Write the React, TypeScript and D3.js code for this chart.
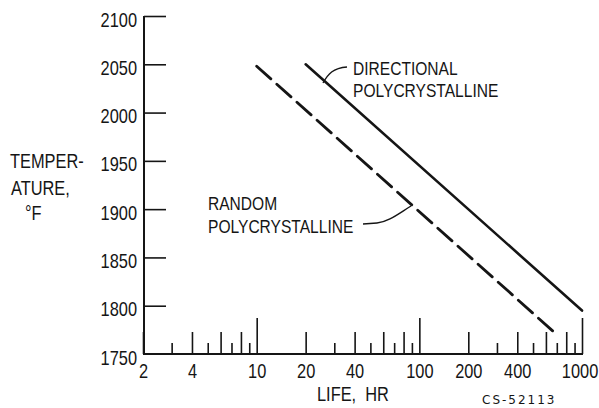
import { useEffect, useRef } from 'react'
import * as d3 from 'd3'

// life (hr) tick values on the log axis
const lifeTicks = [
  2, 3, 4, 5, 6, 7, 8, 9,
  10, 20, 30, 40, 50, 60, 70, 80, 90,
  100, 200, 300, 400, 500, 600, 700, 800, 900, 1000,
]
const lifeLabels = [2, 4, 10, 20, 40, 100, 200, 400, 1000]
const tempTicks = [1750, 1800, 1850, 1900, 1950, 2000, 2050, 2100]

// [life hr, temperature F]
const directional: [number, number][] = [
  [20, 2050],
  [1000, 1795],
]
const random: [number, number][] = [
  [10, 2048],
  [680, 1772],
]

// narrow lettering: Liberation Sans squeezed horizontally
const FONT = "'Liberation Sans', Arial, sans-serif"
const SQUEEZE = 0.82
const INK = '#151515'

export default function App() {
  const svgRef = useRef<SVGSVGElement>(null)

  useEffect(() => {
    if (!svgRef.current) return
    const svg = d3.select(svgRef.current)
    svg.selectAll('*').remove()

    const width = 599
    const height = 408

    svg.attr('width', width).attr('height', height)
    svg.append('rect').attr('width', width).attr('height', height).attr('fill', '#fff')

    const x = d3.scaleLog().domain([2, 1000]).range([143, 582])
    const y = d3.scaleLinear().domain([1750, 2100]).range([354, 16])

    // Y axis
    const yAxis = svg
      .append('g')
      .attr('transform', `translate(${x(2) + 1},0)`)
      .call(
        d3
          .axisLeft(y)
          .tickValues(tempTicks)
          .tickSizeInner(-22)
          .tickSizeOuter(0)
          .tickPadding(7)
          .tickFormat(d3.format('d'))
      )
    yAxis.select('.domain').remove()
    yAxis.selectAll('.tick line')
      .attr('stroke', INK)
      .attr('stroke-width', 1.6)
      .attr('display', (d: any) => (d === 1750 ? 'none' : null))
    yAxis.selectAll('.tick text')
      .attr('fill', INK)
      .attr('dy', '0.5em')
      .attr('x', -7 / SQUEEZE)
      .attr('transform', `scale(${SQUEEZE},1)`)
      .style('font-family', FONT)
      .style('font-size', '20px')

    // X axis (ticks point upward with varying lengths)
    const tickLen = (d: number) => {
      const lead = Math.round(d / Math.pow(10, Math.floor(Math.log10(d) + 1e-9)))
      if (lead === 1) return 36
      return lead % 2 === 0 ? 22 : 11
    }
    const xAxis = svg
      .append('g')
      .attr('transform', `translate(0,${y(1750)})`)
      .call(
        d3
          .axisBottom(x)
          .tickValues(lifeTicks)
          .tickSizeInner(0)
          .tickSizeOuter(0)
          .tickPadding(10)
          .tickFormat((d: any) => (lifeLabels.includes(d) ? String(d) : ''))
      )
    xAxis.select('.domain').remove()
    xAxis.selectAll('.tick line')
      .attr('y2', (d: any) => -tickLen(d))
      .attr('stroke', INK)
      .attr('stroke-width', 1.6)
    xAxis.selectAll('.tick text')
      .attr('fill', INK)
      .attr('dx', (d: any) => (d === 1000 ? -3 : 0))
      .attr('transform', `scale(${SQUEEZE},1)`)
      .style('font-family', FONT)
      .style('font-size', '20px')

    // axis lines
    svg.append('line')
      .attr('x1', x(2) + 1).attr('x2', x(2) + 1)
      .attr('y1', y(2100)).attr('y2', y(1750))
      .attr('stroke', INK).attr('stroke-width', 2)
    svg.append('line')
      .attr('x1', x(2)).attr('x2', x(1000) + 1)
      .attr('y1', y(1750)).attr('y2', y(1750))
      .attr('stroke', INK).attr('stroke-width', 2.2)

    // curves
    const line = d3
      .line<[number, number]>()
      .x(d => x(d[0]))
      .y(d => y(d[1]))

    svg.append('path')
      .datum(directional)
      .attr('d', line)
      .attr('fill', 'none')
      .attr('stroke', INK)
      .attr('stroke-width', 2.6)
      .attr('stroke-linecap', 'round')

    svg.append('path')
      .datum(random)
      .attr('d', line)
      .attr('fill', 'none')
      .attr('stroke', INK)
      .attr('stroke-width', 2.8)
      .attr('stroke-dasharray', '19 8')
      .attr('stroke-linecap', 'round')

    // leaders
    svg.append('path')
      .attr('d', 'M323,83 C328,74 333,68 347,67')
      .attr('fill', 'none')
      .attr('stroke', INK)
      .attr('stroke-width', 1.4)
    svg.append('path')
      .attr('d', 'M363,224 L377,223 C388,222 398,214 411,206')
      .attr('fill', 'none')
      .attr('stroke', INK)
      .attr('stroke-width', 1.4)

    const text = (tx: number, ty: number, s: string, size = 19) =>
      svg.append('g')
        .attr('transform', `translate(${tx},${ty}) scale(${SQUEEZE},1)`)
        .append('text')
        .attr('fill', INK)
        .style('font-family', FONT)
        .style('font-size', `${size}px`)
        .style('white-space', 'pre')
        .text(s)

    text(353, 75, 'DIRECTIONAL')
    text(353, 97, 'POLYCRYSTALLINE')
    text(208, 210, 'RANDOM')
    text(208, 233, 'POLYCRYSTALLINE')

    // y title
    text(10, 168, 'TEMPER-', 20)
    text(11, 195, 'ATURE,', 20)
    text(25, 220, '°F', 20)

    // x title
    text(317, 401, 'LIFE,  HR', 20)

    svg.append('text')
      .attr('x', 482)
      .attr('y', 404)
      .attr('fill', INK)
      .style('font-family', "'DejaVu Sans', sans-serif")
      .style('font-size', '12px')
      .style('letter-spacing', '2px')
      .text('CS-52113')
  }, [])

  return (
    <div style={{ position: 'absolute', left: 0, top: 0 }}>
      <svg ref={svgRef} style={{ display: 'block' }}></svg>
    </div>
  )
}
